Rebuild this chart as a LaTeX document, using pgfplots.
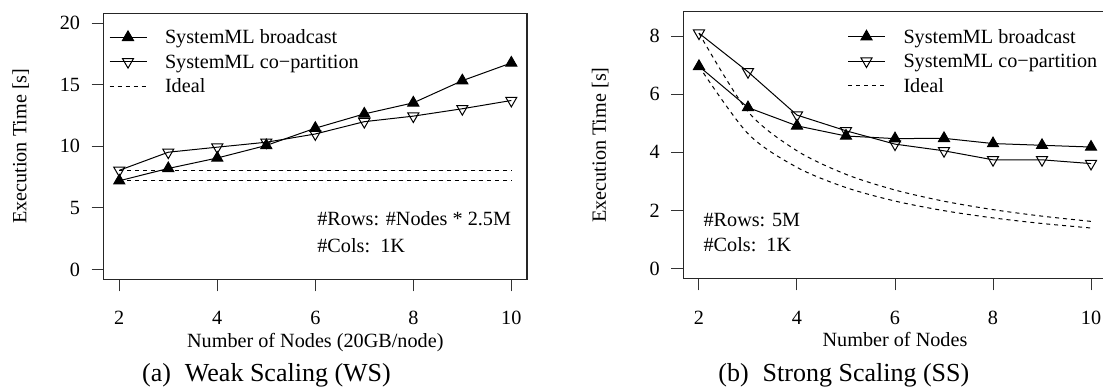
\documentclass[border=0pt]{standalone}
\usepackage{fontspec}
\setmainfont{Liberation Serif}
\usepackage{pgfplots}
\pgfplotsset{compat=1.18}
\newcommand{\fs}{\fontsize{10.1pt}{12pt}\selectfont}
\pgfplotsset{
  mylegend/.style={legend style={draw=none, fill=none, at={(rel axis cs:#1)}, anchor=north west,
      inner sep=0pt, outer sep=0pt, row sep=0pt, font=\fs,
      nodes={inner sep=0pt, text height=9.4pt, text depth=2.8pt},
      /tikz/every odd column/.append style={column sep=9pt}}},
  bc/.style={black, line width=0.5pt, mark=triangle*, mark size=3.2pt, mark options={solid}},
  cp/.style={black, line width=0.5pt, mark=triangle, mark size=3.2pt, mark options={solid, rotate=180}},
  idl/.style={black, line width=0.5pt, dash pattern=on 2pt off 2pt},
  myax/.style={
    scale only axis, width=211.7pt, anchor=south west,
    xmin=1.68, xmax=10.32,
    xtick={2,4,6,8,10},
    axis line style={line width=0.75pt, black!85},
    tick align=outside, major tick length=6pt,
    tick style={line width=0.5pt, black!80},
    xtick pos=bottom, ytick pos=left,
    font=\fs,
    tick label style={font=\fs},
    label style={font=\fs},
    /pgf/number format/assume math mode=true,
    xticklabel style={anchor=base, inner sep=0pt, yshift=-16.85pt},
    yticklabel style={anchor=east, inner sep=0pt, xshift=-5.6pt},
    xlabel style={at={(axis description cs:0.5,0)}, anchor=base, yshift=-33.85pt, inner sep=0pt},
    ylabel style={at={(axis description cs:-0.1826,0.5)}, anchor=base, inner sep=0pt},
    legend cell align=left,
  },
  legend image code/.code={
    \draw[#1, mark repeat=2, mark phase=2] plot coordinates {(0pt,0pt) (9.25pt,0pt) (18.5pt,0pt)};
  },
}
\begin{document}
\begin{tikzpicture}
% (a) Weak scaling
\begin{axis}[myax,
  at={(51.8pt,55.85pt)}, height=133pt,
  ymin=-0.8, ymax=20.8, ytick={0,5,10,15,20},
  xlabel={Number of Nodes (20GB/node)},
  ylabel={Execution Time [s]},
  mylegend={0.01275,0.9556},
]
\addplot[bc] coordinates {(2,7.2) (3,8.2) (4,9.05) (5,10.07) (6,11.47) (7,12.63) (8,13.53) (9,15.33) (10,16.77)};
\addlegendentry{SystemML broadcast}
\addplot[cp] coordinates {(2,8.05) (3,9.52) (4,9.93) (5,10.33) (6,11.0) (7,12.0) (8,12.45) (9,13.05) (10,13.72)};
\addlegendentry{SystemML co−partition}
\addplot[idl] coordinates {(2,8.05) (10,8.05)};
\addlegendentry{Ideal}
\addplot[idl, forget plot] coordinates {(2,7.2) (10,7.2)};
\node[anchor=base west, inner sep=0pt, font=\fs] at (rel axis cs:0.504,0.2004) {\#Rows: \#Nodes * 2.5M};
\node[anchor=base west, inner sep=0pt, font=\fs] at (rel axis cs:0.504,0.1) {\#Cols:\ \ 1K};
\end{axis}
% (b) Strong scaling
\begin{axis}[myax,
  at={(341.65pt,56.35pt)}, height=133.3pt,
  ymin=-0.34, ymax=8.84, ytick={0,2,4,6,8},
  xlabel={Number of Nodes},
  ylabel={Execution Time [s]},
  mylegend={0.3878,0.952},
]
\addplot[bc] coordinates {(2,6.96) (3,5.54) (4,4.91) (5,4.56) (6,4.47) (7,4.48) (8,4.30) (9,4.24) (10,4.18)};
\addlegendentry{SystemML broadcast}
\addplot[cp] coordinates {(2,8.1) (3,6.77) (4,5.28) (5,4.74) (6,4.28) (7,4.05) (8,3.74) (9,3.74) (10,3.61)};
\addlegendentry{SystemML co−partition}
\addplot[idl, smooth] coordinates {(2,8.1) (3,5.4) (4,4.05) (5,3.24) (6,2.7) (7,2.314) (8,2.025) (9,1.8) (10,1.62)};
\addlegendentry{Ideal}
\addplot[idl, smooth, forget plot] coordinates {(2,6.96) (3,4.64) (4,3.48) (5,2.784) (6,2.32) (7,1.989) (8,1.74) (9,1.547) (10,1.392)};
\node[anchor=base west, inner sep=0pt, font=\fs] at (rel axis cs:0.047,0.196) {\#Rows: 5M};
\node[anchor=base west, inner sep=0pt, font=\fs] at (rel axis cs:0.047,0.0987) {\#Cols:\ \ 1K};
\end{axis}
\node[anchor=base west, inner sep=0pt, font=\fontsize{13pt}{15pt}\selectfont] at (70.85pt,5pt) {(a)\hspace{7pt}Weak Scaling (WS)};
\node[anchor=base west, inner sep=0pt, font=\fontsize{13pt}{15pt}\selectfont] at (359pt,5pt) {(b)\hspace{7pt}Strong Scaling (SS)};
\pgfresetboundingbox
\path[use as bounding box] (0pt,0pt) rectangle (551.5pt,195.5pt);
\end{tikzpicture}
\end{document}
